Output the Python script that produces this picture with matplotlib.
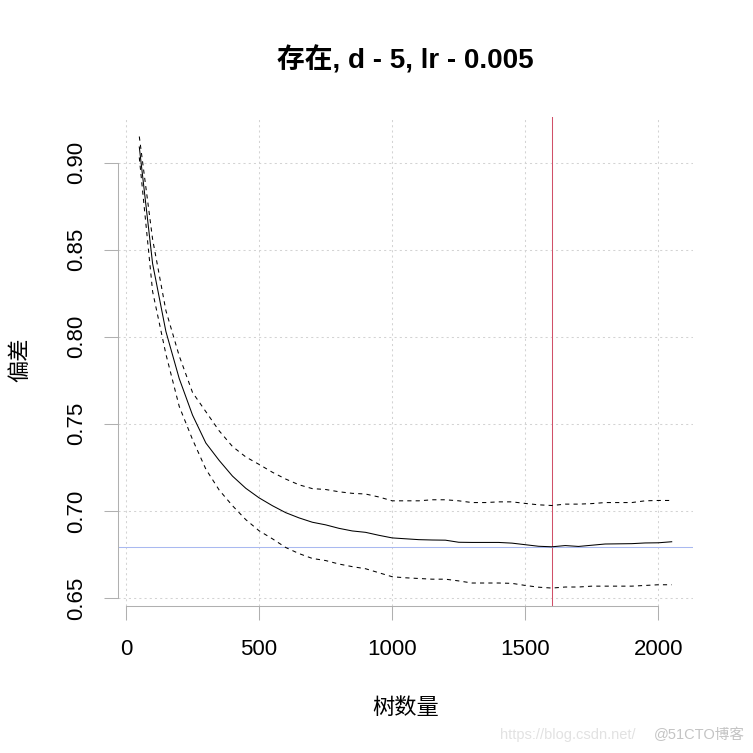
import matplotlib
matplotlib.use("Agg")
import matplotlib.pyplot as plt
import numpy as np

plt.rcParams['font.family'] = ['Liberation Sans', 'Noto Sans CJK SC', 'DejaVu Sans']

trees = list(range(50, 2051, 50))
mean_dev = [0.909, 0.842, 0.803, 0.776, 0.755, 0.739, 0.729, 0.720, 0.713, 0.7075,
            0.703, 0.699, 0.696, 0.6935, 0.692, 0.690, 0.6885, 0.6877, 0.686, 0.6845,
            0.684, 0.6835, 0.6833, 0.6832, 0.682, 0.6819, 0.6819, 0.6819, 0.6815, 0.6806,
            0.6797, 0.6794, 0.6801, 0.6796, 0.6803, 0.681, 0.6811, 0.6812, 0.6816, 0.6817,
            0.6823]
upper_dev = [0.915, 0.856, 0.815, 0.789, 0.768, 0.757, 0.746, 0.737, 0.731, 0.7267,
             0.7222, 0.7183, 0.715, 0.7128, 0.7123, 0.711, 0.7101, 0.7097, 0.708, 0.7058,
             0.7058, 0.7058, 0.7064, 0.7064, 0.7058, 0.7048, 0.7048, 0.7052, 0.7052, 0.7043,
             0.7035, 0.7031, 0.7039, 0.7039, 0.7042, 0.7048, 0.7048, 0.7048, 0.7058, 0.706,
             0.706]
lower_dev = [0.903, 0.826, 0.790, 0.760, 0.741, 0.724, 0.712, 0.703, 0.695, 0.6886,
             0.684, 0.679, 0.6755, 0.6727, 0.6715, 0.6695, 0.668, 0.6668, 0.6645, 0.6622,
             0.6616, 0.6612, 0.6608, 0.6608, 0.6598, 0.6586, 0.6586, 0.6586, 0.6584, 0.6572,
             0.6562, 0.6557, 0.6563, 0.6563, 0.6568, 0.6568, 0.6568, 0.6568, 0.6572, 0.6576,
             0.6576]
best_trees = 1600
min_dev = 0.6794

x_ticks = [0, 500, 1000, 1500, 2000]
x_ticklabels = ['0', '500', '1000', '1500', '2000']
y_ticks = [0.65, 0.70, 0.75, 0.80, 0.85, 0.90]
y_ticklabels = ['0.65', '0.70', '0.75', '0.80', '0.85', '0.90']

title = '存在, d - 5, lr - 0.005'
xlabel = '树数量'
ylabel = '偏差'

W = H = 753
fig = plt.figure(figsize=(7.53, 7.53), dpi=100)
ax = fig.add_axes([118 / W, 1 - 606 / H, 575 / W, 489 / H])

lw = 0.75
ax.plot(trees, mean_dev, color='black', lw=lw, zorder=3)
ax.plot(trees, upper_dev, color='black', lw=lw, linestyle=(0, (4, 4)), zorder=3)
ax.plot(trees, lower_dev, color='black', lw=lw, linestyle=(0, (4, 4)), zorder=3)

ax.axvline(best_trees, color='#D05068', lw=lw, zorder=2)
ax.axhline(min_dev, color='#A9B9F0', lw=lw, zorder=2)

ax.set_xlim(-30, 2130)
ax.set_ylim(0.6454, 0.9262)

for xv in x_ticks:
    ax.axvline(xv, color='#d3d3d3', lw=lw, linestyle=(0, (2, 3)), zorder=1)
for yv in y_ticks:
    ax.axhline(yv, color='#d3d3d3', lw=lw, linestyle=(0, (2, 3)), zorder=1)

ax.set_xticks(x_ticks)
ax.set_xticklabels(x_ticklabels)
ax.set_yticks(y_ticks)
ax.set_yticklabels(y_ticklabels, rotation=90, va='center')

axis_col = '#b0b0b0'
for s in ['top', 'right']:
    ax.spines[s].set_visible(False)
ax.spines['left'].set_bounds(0.65, 0.90)
ax.spines['bottom'].set_bounds(0, 2000)
for s in ['left', 'bottom']:
    ax.spines[s].set_color(axis_col)
    ax.spines[s].set_linewidth(lw)
ax.tick_params(axis='both', colors=axis_col, labelcolor='black', length=10,
               width=lw, labelsize=16)
ax.tick_params(axis='x', pad=14)
ax.tick_params(axis='y', pad=12)

cx = (118 + 693) / 2 / W
fig.text(cx, 1 - 60 / H, title, ha='center', va='center', fontsize=20,
         fontweight='bold')
fig.text(cx, 1 - 707 / H, xlabel, ha='center', va='center', fontsize=16,
         family=['Noto Sans CJK SC', 'DejaVu Sans'])
fig.text(20 / W, 1 - 360 / H, ylabel, ha='center', va='center', fontsize=16,
         rotation=90, family=['Noto Sans CJK SC', 'DejaVu Sans'])

fig.text(500 / W, 1 - 735 / H, 'https://blog.csdn.net/', ha='left', va='center',
         fontsize=10.5, color='#e2e2e2')
fig.text(745 / W, 1 - 735 / H, '@51CTO博客', ha='right', va='center',
         fontsize=10.5, color='#c4c4c4', family=['Liberation Sans', 'Noto Sans CJK SC'])

fig.savefig('out.png', dpi=100)
